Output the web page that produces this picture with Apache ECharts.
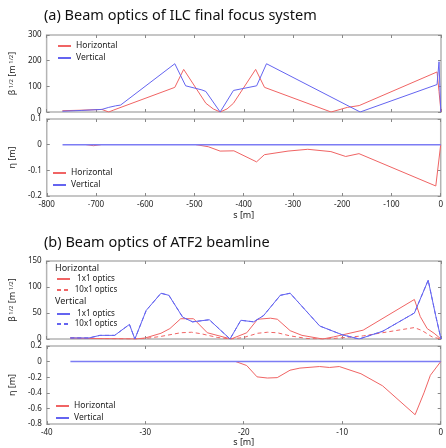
<!DOCTYPE html>
<html>
<head>
<meta charset="utf-8">
<title>Beam optics</title>
<script src="https://cdn.jsdelivr.net/npm/echarts@6/dist/echarts.min.js"></script>
<style>
html, body { margin: 0; padding: 0; background: #fff; }
#chart { width: 446px; height: 448px; }
</style>
</head>
<body>
<div id="chart"></div>
<script>
// (a) ILC final focus  [s (m), value]
const ilcBetaH = [[-768, 5], [-730, 7], [-688, 10], [-674, 0], [-665, 7], [-540, 96], [-522, 166], [-477, 34], [-462, 12], [-448, 0], [-434, 12], [-421, 34], [-376, 166], [-358, 96], [-223, 0], [-190, 18], [-166, 25], [-8, 156], [-4, 80], [0, 0]];
const ilcBetaV = [[-768, 3], [-730, 6], [-688, 10], [-674, 18], [-660, 24], [-650, 27], [-540, 188], [-518, 102], [-485, 86], [-477, 80], [-448, 0], [-421, 84], [-374, 102], [-354, 188], [-164, 0], [-8, 107], [-4, 196], [-0.5, 0]];
// 水平 η: 0 の区間は垂直線の下に隠れるので省略 (null で切る)
const ilcEtaH = [[-720, 0], [-705, -0.004], [-690, 0], [-600, null], [-497, 0], [-472, -0.008], [-448, -0.025], [-420, -0.024], [-374, -0.067], [-358, -0.039], [-310, -0.025], [-270, -0.018], [-223, -0.027], [-193, -0.046], [-166, -0.035], [-10, -0.161], [0, 0]];
const ilcEtaV = [[-768, 0], [0, 0]];

// (b) ATF2 beamline
const atfBetaH1 = [[-37.6, 2], [-35.5, 1], [-33, 0.5], [-31, 0], [-30, 2], [-28.4, 11], [-27.5, 20], [-26.4, 39], [-25.1, 39], [-23.7, 12], [-21.3, 0], [-19.7, 12], [-18.6, 38], [-17.3, 40], [-16.6, 38], [-15.3, 16], [-14.1, 7], [-12, 0], [-10.9, 4], [-7.9, 17], [-2.7, 76], [-2.1, 43], [-1.4, 20], [-0.7, 11], [0, 0]];
const atfBetaH10 = [[-37.6, 2], [-35, 1], [-31, 0], [-30, 1], [-28.4, 5], [-26.4, 12], [-25.3, 13], [-24.3, 10], [-22.7, 3], [-21.3, 0], [-20, 3], [-18.6, 11], [-17.6, 13], [-16.6, 12], [-15.3, 6], [-13.6, 1], [-12, 0], [-10.9, 1], [-7.9, 6], [-2.7, 22], [-1.9, 16], [-0.9, 4], [0, 0]];
const atfBetaV1 = [[-37.6, 2], [-35.7, 2], [-34.6, 7], [-33.1, 7], [-31.6, 28], [-31.05, 0], [-29.9, 55], [-28.4, 88], [-27.6, 84], [-26.2, 42], [-25.2, 33], [-23.5, 37], [-21.4, 0], [-20.3, 36], [-19, 33], [-18, 45], [-16.3, 84], [-15.3, 88], [-12.3, 25], [-10, 8], [-8.3, 0], [-5.9, 15], [-2.7, 50], [-1.3, 113], [-0.55, 46], [0, 0]];
const atfBetaV10 = atfBetaV1; // 10x1 は垂直方向が同じ (1x1 と重なる)
const atfEtaH = [[-20.8, 0], [-19.7, -0.05], [-18.65, -0.195], [-17.6, -0.21], [-16.6, -0.205], [-15.3, -0.11], [-14.3, -0.083], [-12.3, -0.063], [-11.3, -0.075], [-10.3, -0.063], [-8.1, -0.155], [-5.9, -0.31], [-2.6, -0.68], [-1.7, -0.4], [-1.05, -0.175], [0, 0]];
const atfEtaV = [[-37.6, 0], [0, 0]];

// axis ranges [min, max, interval]
const ilcS = [-800, 0, 100];
const ilcBetaRange = [0, 300, 100];
const ilcEtaRange = [-0.2, 0.1, 0.1];
const atfS = [-40, 0, 10];
const atfBetaRange = [0, 150, 50];
const atfEtaRange = [-0.8, 0.2, 0.2];

const RED = '#f06464';
const BLUE = '#6464f0';
const FONT = 'Noto Sans';

const grids = [
  { left: 44, right: 5, top: 35, height: 77 },
  { left: 44, right: 5, top: 119, height: 77 },
  { left: 44, right: 5, top: 261, height: 78 },
  { left: 44, right: 5, top: 346, height: 81 }
].map(g => Object.assign(g, { show: true, borderColor: '#b4b4b4', borderWidth: 1.5 }));

const tick = { show: true, inside: true, length: 3, lineStyle: { color: '#888', width: 1 } };
const lbl = { fontSize: 8, color: '#222', fontFamily: FONT };
const noLine = { show: false, onZero: false };

function xAxes(gi, r, showLabel, name, nameGap) {
  return [
    {
      type: 'value', gridIndex: gi, position: 'bottom', min: r[0], max: r[1], interval: r[2],
      axisLine: noLine, axisTick: tick, splitLine: { show: false },
      axisLabel: Object.assign({ show: showLabel, margin: 5 }, lbl),
      name: name, nameLocation: 'middle', nameGap: nameGap,
      nameTextStyle: { fontSize: 9, color: '#222', fontFamily: FONT }
    },
    {
      type: 'value', gridIndex: gi, position: 'top', min: r[0], max: r[1], interval: r[2],
      axisLine: noLine, axisTick: tick, splitLine: { show: false }, axisLabel: { show: false }
    }
  ];
}

const richName = {
  b: { fontSize: 9, color: '#222', fontFamily: FONT },
  s: { fontSize: 6, color: '#222', fontFamily: FONT, verticalAlign: 'top' }
};
const betaName = '{b|β}{s| 1/2}{b| [m}{s| 1/2}{b|]}';

function yAxes(gi, r, name, nameGap) {
  return [
    {
      type: 'value', gridIndex: gi, position: 'left', min: r[0], max: r[1], interval: r[2],
      axisLine: noLine, axisTick: tick, splitLine: { show: false },
      axisLabel: Object.assign({ margin: 5 }, lbl),
      name: name, nameLocation: 'middle', nameGap: nameGap,
      nameTextStyle: { fontSize: 9, color: '#222', fontFamily: FONT, rich: richName }
    },
    {
      type: 'value', gridIndex: gi, position: 'right', min: r[0], max: r[1], interval: r[2],
      axisLine: noLine, axisTick: tick, splitLine: { show: false }, axisLabel: { show: false }
    }
  ];
}

function line(name, gi, data, color, dashed, width) {
  return {
    name: name, type: 'line', xAxisIndex: gi * 2, yAxisIndex: gi * 2,
    data: data, symbol: 'none', silent: true, connectNulls: false,
    lineStyle: { color: color, width: width || 1, type: dashed ? [4, 3] : 'solid' },
    itemStyle: { color: color }
  };
}

const legText = { fontSize: 8.5, color: '#222', fontFamily: FONT, lineHeight: 10 };
function legend(names, left, top, extra) {
  return Object.assign({
    data: names, orient: 'vertical', left: left, top: top, padding: 0,
    itemWidth: 13, itemHeight: 10, itemGap: 2, itemTextGap: 6,
    itemStyle: { opacity: 0 },
    textStyle: legText, selectedMode: false
  }, extra || {});
}

const optRich = {
  rich: { c: { width: 42, align: 'center', fontSize: 8, color: '#222', fontFamily: FONT } }
};

const option = {
  animation: false,
  backgroundColor: '#fff',
  title: [
    { text: '(a) Beam optics of ILC final focus system', left: 44, top: 8, padding: 0,
      textStyle: { fontSize: 14.5, fontWeight: 'normal', color: '#111', fontFamily: FONT } },
    { text: '(b) Beam optics of ATF2 beamline', left: 44, top: 235, padding: 0,
      textStyle: { fontSize: 14.5, fontWeight: 'normal', color: '#111', fontFamily: FONT } }
  ],
  grid: grids,
  xAxis: [].concat(
    xAxes(0, ilcS, false, '', 0),
    xAxes(1, ilcS, true, 's [m]', 15),
    xAxes(2, atfS, false, '', 0),
    xAxes(3, atfS, true, 's [m]', 12)
  ),
  yAxis: [].concat(
    yAxes(0, ilcBetaRange, betaName, 22),
    yAxes(1, ilcEtaRange, 'η [m]', 24),
    yAxes(2, atfBetaRange, betaName, 22),
    yAxes(3, atfEtaRange, 'η [m]', 24)
  ),
  legend: [
    legend(['Horizontal', 'Vertical'], 57, 41),
    legend(['Horizontal', 'Vertical'], 52, 168),
    legend(['H 1x1 optics', 'H 10x1 optics'], 56, 274, {
      itemGap: 1, formatter: n => '{c|' + n.slice(2) + '}', textStyle: Object.assign({}, legText, optRich) }),
    legend(['V 1x1 optics', 'V 10x1 optics'], 56, 309, {
      itemGap: 0, formatter: n => '{c|' + n.slice(2) + '}', textStyle: Object.assign({}, legText, optRich) }),
    legend(['Horizontal', 'Vertical'], 55, 401)
  ],
  graphic: [
    { type: 'text', left: 55, top: 264, style: { text: 'Horizontal', fontSize: 9, fill: '#222', fontFamily: FONT } },
    { type: 'text', left: 55, top: 297, style: { text: 'Vertical', fontSize: 9, fill: '#222', fontFamily: FONT } }
  ],
  series: [
    line('Horizontal', 0, ilcBetaH, RED),
    line('Vertical', 0, ilcBetaV, BLUE),
    line('Horizontal', 1, ilcEtaH, RED),
    line('Vertical', 1, ilcEtaV, '#7c7cf4', false, 1.5),
    line('H 1x1 optics', 2, atfBetaH1, RED),
    line('H 10x1 optics', 2, atfBetaH10, RED, true),
    line('V 10x1 optics', 2, atfBetaV10, BLUE, true),
    line('V 1x1 optics', 2, atfBetaV1, BLUE),
    line('Horizontal', 3, atfEtaH, RED),
    line('Vertical', 3, atfEtaV, '#7c7cf4', false, 1.5)
  ]
};

const chart = echarts.init(document.getElementById('chart'));
chart.setOption(option);
</script>
</body>
</html>
